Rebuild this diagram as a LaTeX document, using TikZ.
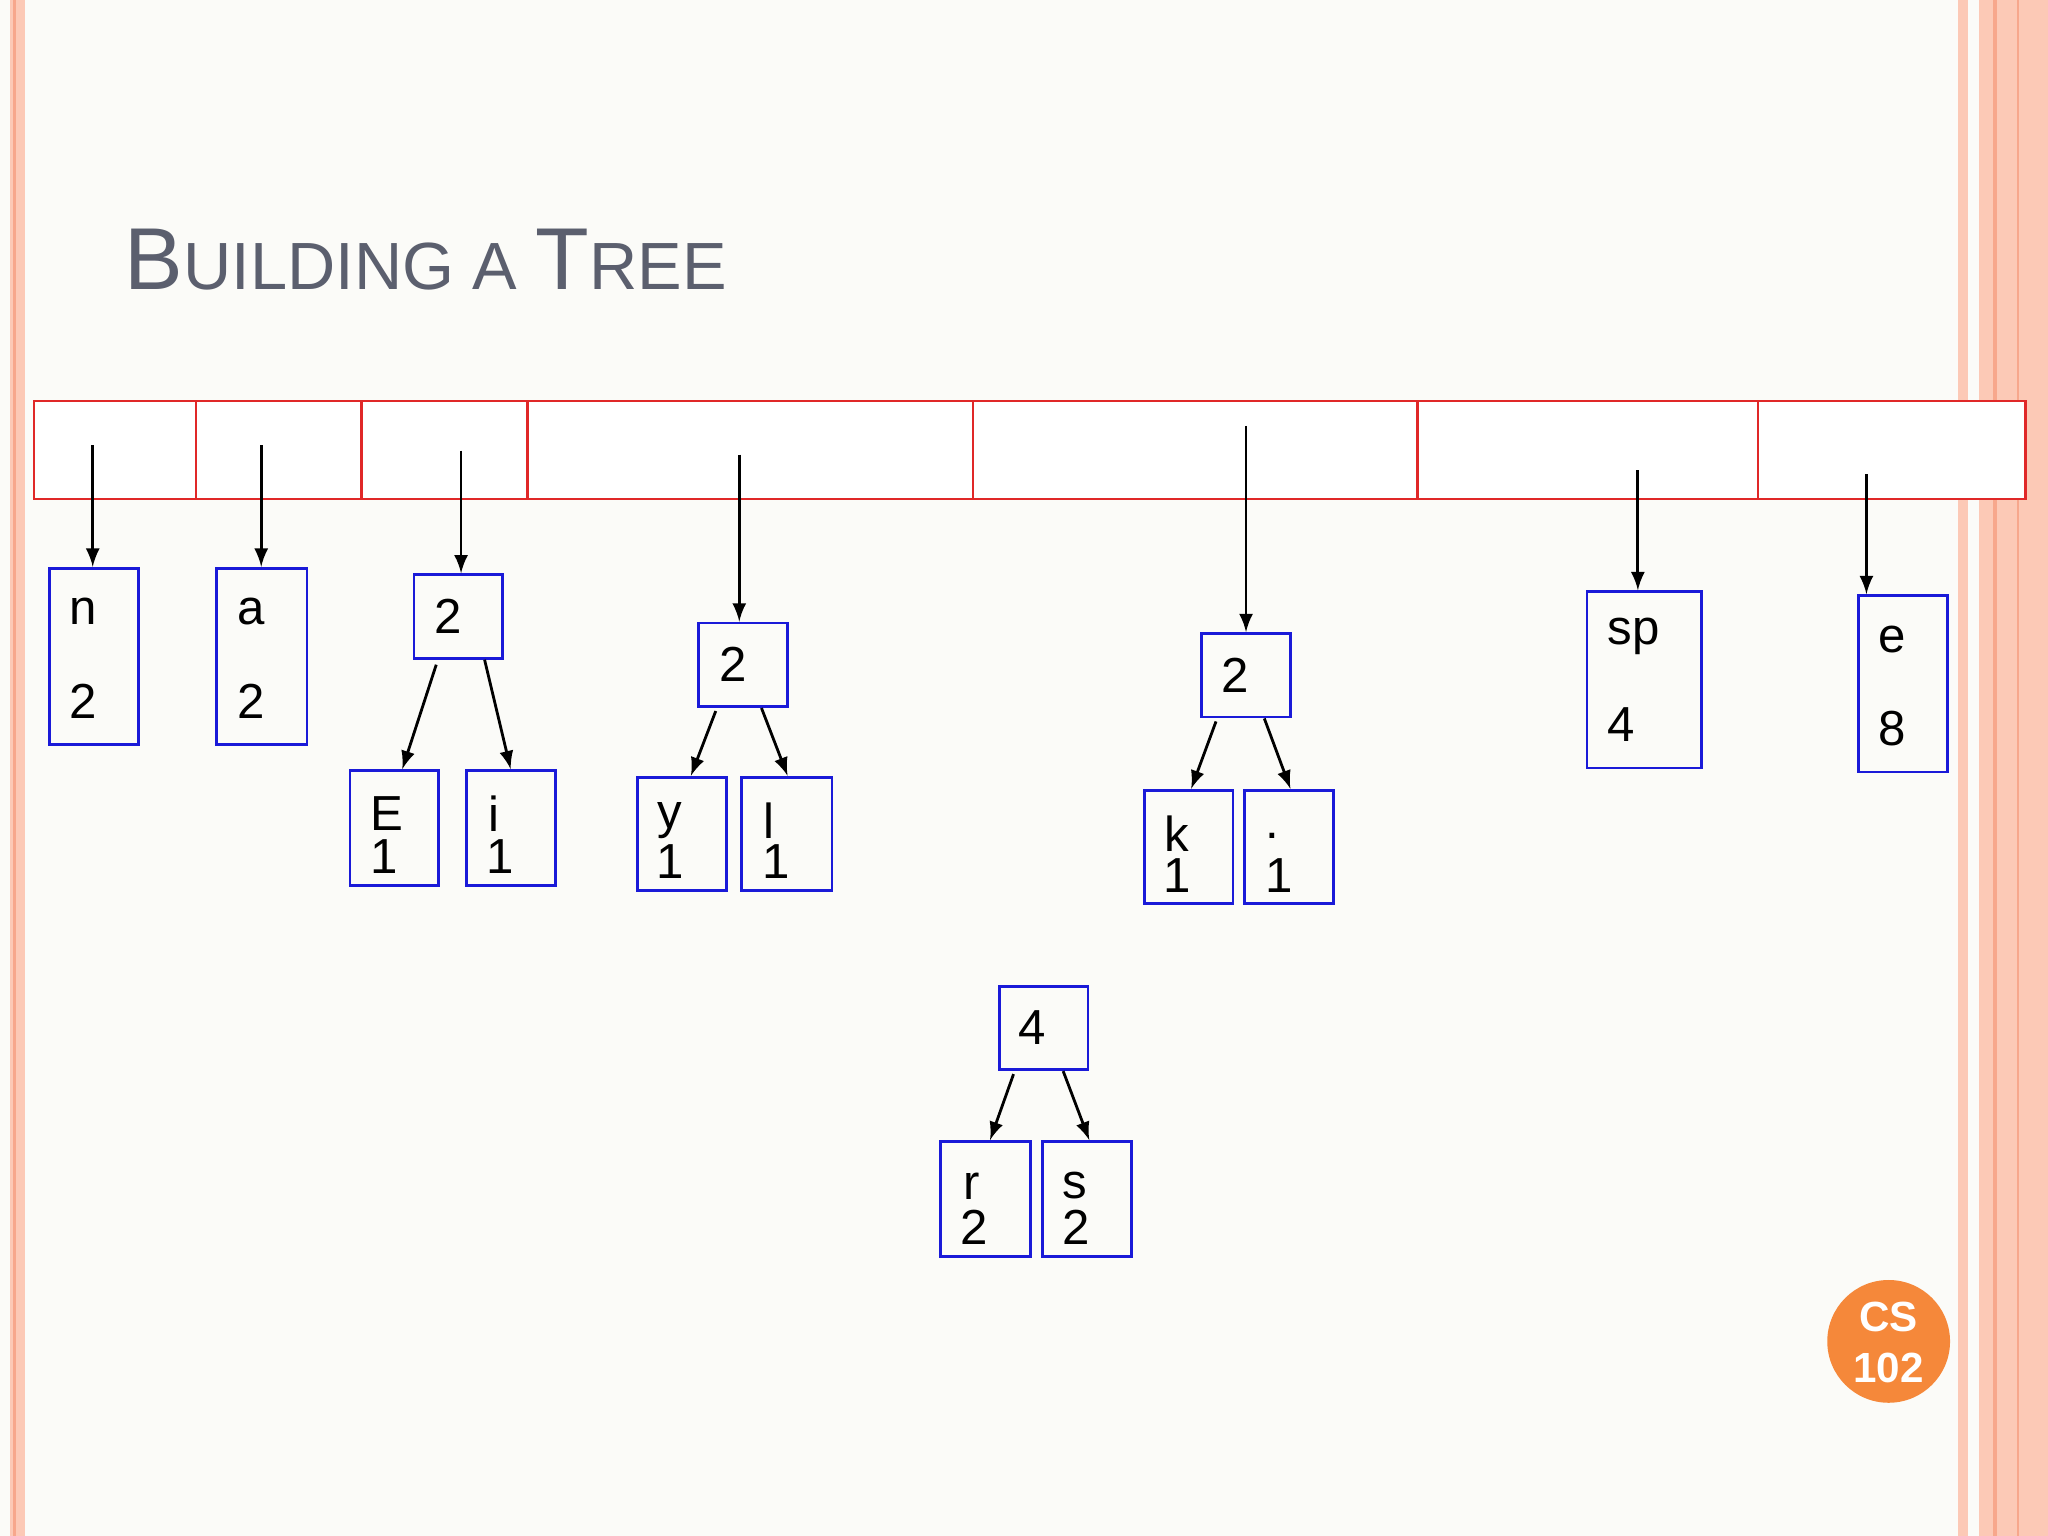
\documentclass[tikz,border=0pt]{standalone}
\usepackage{fontspec}
\setmainfont{Liberation Sans}
\definecolor{bg}{HTML}{FBFBF8}
\definecolor{pinkA}{HTML}{FCC9B6}
\definecolor{pinkB}{HTML}{F7A78C}
\definecolor{ttl}{HTML}{5B5F6E}
\definecolor{org}{HTML}{F5883A}
\definecolor{bx}{HTML}{1A1AD8}
\definecolor{rd}{HTML}{E02828}
\tikzset{
 bbox/.style={draw=bx,line width=0.8pt},
 arr/.style={-latex,line width=0.8pt},
 lbl/.style={font=\fontsize{14}{15}\selectfont,inner sep=0pt,anchor=center},
}
\begin{document}
\begin{tikzpicture}[x=0.013061cm,y=-0.013061cm]
\fill[bg] (0,0) rectangle (1568,1176);
\useasboundingbox (0,0) rectangle (1568,1176);
% borders
\fill[pinkA] (8,0) rectangle (19,1176);
\fill[pinkB] (10,0) rectangle (12,1176);
\fill[pinkA] (1499,0) rectangle (1507,1176);
\fill[pinkA] (1515,0) rectangle (1568,1176);
\fill[pinkB] (1526,0) rectangle (1529,1176);
\fill[pinkB] (1544,0) rectangle (1546,1176);
% title
\node[anchor=base west,inner sep=0pt,text=ttl] (title) at (95,222)
 {\fontsize{25}{28}\selectfont B\fontsize{19}{22}\selectfont UILDING A \fontsize{25}{28}\selectfont T\fontsize{19}{22}\selectfont REE};
% table
\draw[rd,line width=0.8pt,fill=white] (26,307) rectangle (1551,382);
\foreach \x in {150,277,404,745,1085,1346} \draw[rd,line width=0.8pt] (\x,307)--(\x,382);
% boxes
\node[bbox,minimum width=68*0.013061cm,minimum height=135*0.013061cm] (n) at (72,502.5) {};
\node[lbl] at (64,468) {n}; \node[lbl] at (64,537) {2};
\node[bbox,minimum width=69*0.013061cm,minimum height=135*0.013061cm] (a) at (200.5,502.5) {};
\node[lbl] at (192,468) {a}; \node[lbl] at (192,537) {2};
\node[bbox,minimum width=68*0.013061cm,minimum height=64*0.013061cm] (p1) at (351,472) {};
\node[lbl] at (343,472) {2};
\node[bbox,minimum width=68*0.013061cm,minimum height=88*0.013061cm] (E) at (302,634) {};
\node[lbl] at (296,623) {E}; \node[lbl] at (294,656) {1};
\node[bbox,minimum width=68*0.013061cm,minimum height=88*0.013061cm] (i) at (391,634) {};
\node[lbl] at (378,623) {i}; \node[lbl] at (383,656) {1};
\node[bbox,minimum width=68*0.013061cm,minimum height=64*0.013061cm] (p2) at (569,509) {};
\node[lbl] at (561,509) {2};
\node[bbox,minimum width=68*0.013061cm,minimum height=87*0.013061cm] (y) at (522,638.5) {};
\node[lbl] at (513,628) {y}; \node[lbl] at (513,660) {1};
\node[bbox,minimum width=69*0.013061cm,minimum height=87*0.013061cm] (l) at (602.5,638.5) {};
\node[lbl] at (589,628) {l}; \node[lbl] at (594,660) {1};
\node[bbox,minimum width=68*0.013061cm,minimum height=64*0.013061cm] (p3) at (954,517) {};
\node[lbl] at (946,517) {2};
\node[bbox,minimum width=68*0.013061cm,minimum height=87*0.013061cm] (k) at (910,648.5) {};
\node[lbl] at (901,638) {k}; \node[lbl] at (901,670) {1};
\node[bbox,minimum width=68*0.013061cm,minimum height=87*0.013061cm] (dot) at (987,648.5) {};
\node[lbl] at (974,640) {.}; \node[lbl] at (979,670) {1};
\node[bbox,minimum width=88*0.013061cm,minimum height=135*0.013061cm] (sp) at (1259,520.5) {};
\node[lbl] at (1251,487) {sp}; \node[lbl] at (1241,555) {4};
\node[bbox,minimum width=68*0.013061cm,minimum height=135*0.013061cm] (e) at (1457,523.5) {};
\node[lbl] at (1449,490) {e}; \node[lbl] at (1449,558) {8};
\node[bbox,minimum width=68*0.013061cm,minimum height=64*0.013061cm] (p4) at (799,787) {};
\node[lbl] at (790,787) {4};
\node[bbox,minimum width=69*0.013061cm,minimum height=88*0.013061cm] (r) at (754.5,918) {};
\node[lbl] at (744,908) {r}; \node[lbl] at (746,940) {2};
\node[bbox,minimum width=68*0.013061cm,minimum height=88*0.013061cm] (s) at (832,918) {};
\node[lbl] at (823,908) {s}; \node[lbl] at (824,940) {2};
% arrows from table
\coordinate (t1) at (71,341); \coordinate (t2) at (200,341); \coordinate (t3) at (353,345);
\coordinate (t4) at (566,348); \coordinate (t5) at (954,326); \coordinate (t6) at (1254,360);
\coordinate (t7) at (1429,363);
\draw[arr] (t1) -- (n.north -| t1);
\draw[arr] (t2) -- (a.north -| t2);
\draw[arr] (t3) -- (p1.north -| t3);
\draw[arr] (t4) -- (p2.north -| t4);
\draw[arr] (t5) -- (p3.north -| t5);
\draw[arr] (t6) -- (sp.north -| t6);
\draw[arr] (t7) -- (e.north -| t7);
% child arrows
\draw[arr] ([xshift=-17*0.013061cm,yshift=-0.05cm]p1.south) -- ([xshift=6*0.013061cm]E.north);
\draw[arr] ([xshift=20*0.013061cm]p1.south) -- ([xshift=0*0.013061cm]i.north);
\draw[arr] ([xshift=-21*0.013061cm,yshift=-0.03cm]p2.south) -- ([xshift=7*0.013061cm]y.north);
\draw[arr] ([xshift=14*0.013061cm]p2.south) -- ([xshift=0.5*0.013061cm]l.north);
\draw[arr] ([xshift=-23*0.013061cm,yshift=-0.03cm]p3.south) -- ([xshift=2*0.013061cm]k.north);
\draw[arr] ([xshift=14*0.013061cm]p3.south) -- ([xshift=1*0.013061cm]dot.north);
\draw[arr] ([xshift=-23*0.013061cm,yshift=-0.03cm]p4.south) -- ([xshift=3.5*0.013061cm]r.north);
\draw[arr] ([xshift=15*0.013061cm]p4.south) -- ([xshift=2*0.013061cm]s.north);
% badge
\fill[org] (1446,1027) circle (47);
\node[text=white,font=\bfseries\fontsize{12}{14.5}\selectfont,align=center] (badge) at (1446,1028) {CS\\102};
\end{tikzpicture}
\end{document}
